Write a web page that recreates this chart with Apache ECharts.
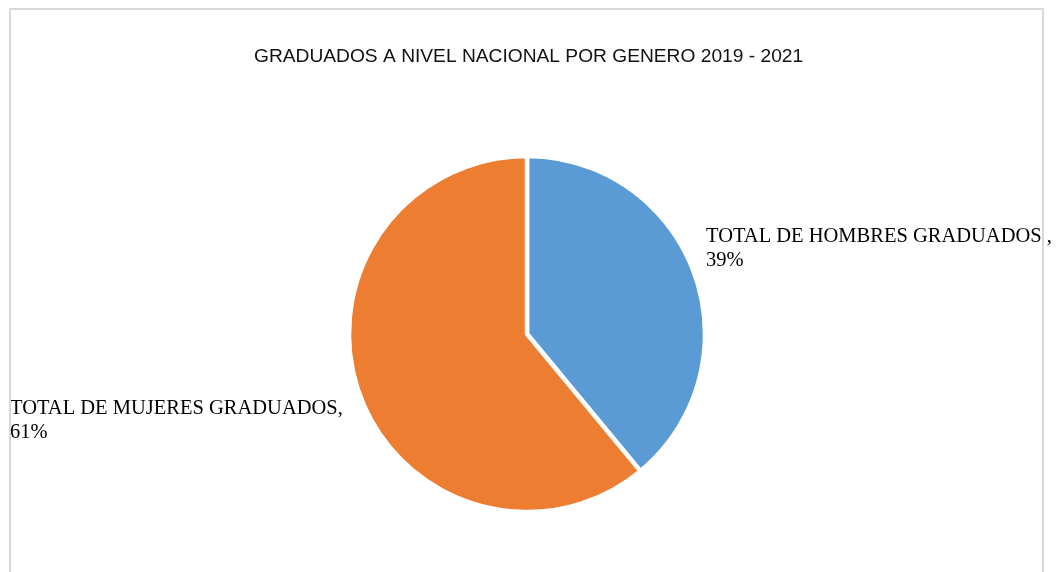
<!DOCTYPE html>
<html>
<head>
<meta charset="utf-8">
<script src="https://cdn.jsdelivr.net/npm/echarts@6/dist/echarts.min.js"></script>
<style>
  html, body { margin: 0; padding: 0; background: #fff; }
  #chart { width: 1064px; height: 572px; }
</style>
</head>
<body>
<div id="chart"></div>
<script>
// datos del grafico
var titulo = 'GRADUADOS A NIVEL NACIONAL POR GENERO 2019 - 2021';
var categorias = ['TOTAL DE HOMBRES GRADUADOS ', 'TOTAL DE MUJERES GRADUADOS'];
var valores = [39, 61];
var colores = ['#5b9bd5', '#ed7d31'];

// posicion de las etiquetas (esquina superior izquierda)
var posEtiquetas = [[706, 225], [10, 397]];

var chart = echarts.init(document.getElementById('chart'));

var datos = categorias.map(function (c, i) {
    return {
        name: c,
        value: valores[i],
        itemStyle: { color: colores[i] }
    };
});

var option = {
    animation: false,
    backgroundColor: '#fff',
    title: {
        text: titulo,
        left: 249,
        top: 42,
        textStyle: {
            fontFamily: 'Liberation Sans',
            fontSize: 19.2,
            fontWeight: 'normal',
            color: '#111'
        }
    },
    graphic: [{
        type: 'rect',
        z: 100,
        silent: true,
        shape: { x: 10, y: 9, width: 1033, height: 620 },
        style: { fill: 'none', stroke: '#d9d9d9', lineWidth: 2 }
    }, {
        type: 'rect',
        z: 99,
        silent: true,
        shape: { x: 0, y: 0, width: 10, height: 572 },
        style: { fill: '#fff' }
    }],
    series: [{
        type: 'pie',
        center: [527, 334],
        radius: 178,
        startAngle: 90,
        clockwise: true,
        selectedMode: false,
        itemStyle: { borderColor: '#fff', borderWidth: 4.5 },
        label: {
            show: true,
            position: 'outside',
            overflow: 'none',
            fontFamily: 'Liberation Serif',
            fontSize: 20.5,
            lineHeight: 24,
            color: '#000',
            formatter: function (p) {
                return p.name + ',\n' + Math.round(p.percent) + '%';
            }
        },
        labelLine: { show: false },
        labelLayout: function (p) {
            var pos = posEtiquetas[p.dataIndex];
            return { x: pos[0], y: pos[1], align: 'left', verticalAlign: 'top' };
        },
        emphasis: { disabled: true },
        data: datos
    }]
};

chart.setOption(option);
</script>
</body>
</html>
